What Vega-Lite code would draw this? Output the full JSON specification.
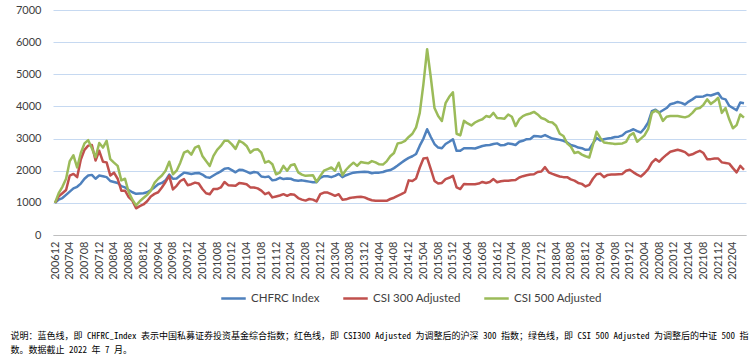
{
"$schema": "https://vega.github.io/schema/vega-lite/v6.json",
"width": 693, "height": 225,
"padding": {"left": 10, "top": 4, "right": 8, "bottom": 2},
"background": "white",
"config": {"font": "Lato", "view": {"stroke": null}, "axis": {"labelColor": "#404040", "labelFont": "Lato", "labelFontSize": 11}, "legend": {"labelFont": "Lato", "labelColor": "#404040"}},
"data": {"values": [
{"d":"200612","CHFRC":1000,"CSI300":1000,"CSI500":1000},
{"d":"200701","CHFRC":1100,"CSI300":1200,"CSI500":1300},
{"d":"200702","CHFRC":1150,"CSI300":1300,"CSI500":1500},
{"d":"200703","CHFRC":1250,"CSI300":1400,"CSI500":1750},
{"d":"200704","CHFRC":1350,"CSI300":1850,"CSI500":2300},
{"d":"200705","CHFRC":1450,"CSI300":1900,"CSI500":2480},
{"d":"200706","CHFRC":1500,"CSI300":1800,"CSI500":2100},
{"d":"200707","CHFRC":1600,"CSI300":2350,"CSI500":2550},
{"d":"200708","CHFRC":1750,"CSI300":2650,"CSI500":2850},
{"d":"200709","CHFRC":1850,"CSI300":2780,"CSI500":2950},
{"d":"200710","CHFRC":1870,"CSI300":2800,"CSI500":2700},
{"d":"200711","CHFRC":1750,"CSI300":2320,"CSI500":2420},
{"d":"200712","CHFRC":1850,"CSI300":2620,"CSI500":2860},
{"d":"200801","CHFRC":1830,"CSI300":2280,"CSI500":2720},
{"d":"200802","CHFRC":1800,"CSI300":2260,"CSI500":2930},
{"d":"200803","CHFRC":1680,"CSI300":1850,"CSI500":2360},
{"d":"200804","CHFRC":1650,"CSI300":1940,"CSI500":2250},
{"d":"200805","CHFRC":1620,"CSI300":1750,"CSI500":2150},
{"d":"200806","CHFRC":1520,"CSI300":1380,"CSI500":1700},
{"d":"200807","CHFRC":1480,"CSI300":1380,"CSI500":1750},
{"d":"200808","CHFRC":1400,"CSI300":1180,"CSI500":1330},
{"d":"200809","CHFRC":1330,"CSI300":1070,"CSI500":1100},
{"d":"200810","CHFRC":1280,"CSI300":830,"CSI500":920},
{"d":"200811","CHFRC":1290,"CSI300":900,"CSI500":1050},
{"d":"200812","CHFRC":1300,"CSI300":950,"CSI500":1150},
{"d":"200901","CHFRC":1330,"CSI300":1050,"CSI500":1250},
{"d":"200902","CHFRC":1400,"CSI300":1200,"CSI500":1380},
{"d":"200903","CHFRC":1480,"CSI300":1280,"CSI500":1620},
{"d":"200904","CHFRC":1580,"CSI300":1330,"CSI500":1750},
{"d":"200905","CHFRC":1620,"CSI300":1480,"CSI500":1850},
{"d":"200906","CHFRC":1700,"CSI300":1650,"CSI500":2000},
{"d":"200907","CHFRC":1880,"CSI300":1840,"CSI500":2280},
{"d":"200908","CHFRC":1750,"CSI300":1420,"CSI500":1890},
{"d":"200909","CHFRC":1760,"CSI300":1530,"CSI500":2000},
{"d":"200910","CHFRC":1850,"CSI300":1680,"CSI500":2250},
{"d":"200911","CHFRC":1940,"CSI300":1740,"CSI500":2560},
{"d":"200912","CHFRC":1920,"CSI300":1550,"CSI500":2620},
{"d":"201001","CHFRC":1900,"CSI300":1580,"CSI500":2500},
{"d":"201002","CHFRC":1920,"CSI300":1630,"CSI500":2720},
{"d":"201003","CHFRC":1930,"CSI300":1600,"CSI500":2770},
{"d":"201004","CHFRC":1880,"CSI300":1430,"CSI500":2460},
{"d":"201005","CHFRC":1800,"CSI300":1300,"CSI500":2300},
{"d":"201006","CHFRC":1780,"CSI300":1270,"CSI500":2150},
{"d":"201007","CHFRC":1850,"CSI300":1430,"CSI500":2460},
{"d":"201008","CHFRC":1920,"CSI300":1430,"CSI500":2650},
{"d":"201009","CHFRC":1980,"CSI300":1480,"CSI500":2770},
{"d":"201010","CHFRC":2060,"CSI300":1650,"CSI500":2930},
{"d":"201011","CHFRC":2080,"CSI300":1550,"CSI500":2930},
{"d":"201012","CHFRC":2020,"CSI300":1540,"CSI500":2820},
{"d":"201101","CHFRC":1950,"CSI300":1530,"CSI500":2680},
{"d":"201102","CHFRC":2030,"CSI300":1620,"CSI500":2930},
{"d":"201103","CHFRC":2020,"CSI300":1600,"CSI500":2870},
{"d":"201104","CHFRC":1970,"CSI300":1580,"CSI500":2770},
{"d":"201105","CHFRC":1920,"CSI300":1480,"CSI500":2560},
{"d":"201106","CHFRC":1960,"CSI300":1480,"CSI500":2650},
{"d":"201107","CHFRC":1940,"CSI300":1450,"CSI500":2670},
{"d":"201108","CHFRC":1820,"CSI300":1380,"CSI500":2560},
{"d":"201109","CHFRC":1800,"CSI300":1270,"CSI500":2250},
{"d":"201110","CHFRC":1820,"CSI300":1320,"CSI500":2300},
{"d":"201111","CHFRC":1700,"CSI300":1170,"CSI500":2200},
{"d":"201112","CHFRC":1720,"CSI300":1200,"CSI500":1890},
{"d":"201201","CHFRC":1780,"CSI300":1230,"CSI500":1940},
{"d":"201202","CHFRC":1740,"CSI300":1270,"CSI500":2150},
{"d":"201203","CHFRC":1760,"CSI300":1220,"CSI500":2000},
{"d":"201204","CHFRC":1750,"CSI300":1270,"CSI500":2170},
{"d":"201205","CHFRC":1700,"CSI300":1250,"CSI500":2200},
{"d":"201206","CHFRC":1690,"CSI300":1150,"CSI500":1950},
{"d":"201207","CHFRC":1700,"CSI300":1100,"CSI500":1880},
{"d":"201208","CHFRC":1680,"CSI300":1070,"CSI500":1840},
{"d":"201209","CHFRC":1660,"CSI300":1120,"CSI500":1850},
{"d":"201210","CHFRC":1640,"CSI300":1100,"CSI500":1860},
{"d":"201211","CHFRC":1640,"CSI300":1045,"CSI500":1650},
{"d":"201212","CHFRC":1780,"CSI300":1270,"CSI500":1840},
{"d":"201301","CHFRC":1830,"CSI300":1320,"CSI500":2000},
{"d":"201302","CHFRC":1830,"CSI300":1320,"CSI500":2050},
{"d":"201303","CHFRC":1800,"CSI300":1270,"CSI500":2100},
{"d":"201304","CHFRC":1840,"CSI300":1220,"CSI500":2000},
{"d":"201305","CHFRC":1900,"CSI300":1270,"CSI500":2250},
{"d":"201306","CHFRC":1800,"CSI300":1100,"CSI500":1860},
{"d":"201307","CHFRC":1860,"CSI300":1110,"CSI500":2030},
{"d":"201308","CHFRC":1900,"CSI300":1150,"CSI500":2150},
{"d":"201309","CHFRC":1940,"CSI300":1170,"CSI500":2250},
{"d":"201310","CHFRC":1950,"CSI300":1180,"CSI500":2150},
{"d":"201311","CHFRC":1960,"CSI300":1190,"CSI500":2270},
{"d":"201312","CHFRC":1970,"CSI300":1170,"CSI500":2250},
{"d":"201401","CHFRC":1960,"CSI300":1120,"CSI500":2230},
{"d":"201402","CHFRC":1920,"CSI300":1080,"CSI500":2300},
{"d":"201403","CHFRC":1940,"CSI300":1065,"CSI500":2260},
{"d":"201404","CHFRC":1940,"CSI300":1065,"CSI500":2200},
{"d":"201405","CHFRC":1960,"CSI300":1065,"CSI500":2190},
{"d":"201406","CHFRC":2000,"CSI300":1065,"CSI500":2290},
{"d":"201407","CHFRC":2020,"CSI300":1120,"CSI500":2450},
{"d":"201408","CHFRC":2080,"CSI300":1160,"CSI500":2550},
{"d":"201409","CHFRC":2160,"CSI300":1220,"CSI500":2850},
{"d":"201410","CHFRC":2250,"CSI300":1270,"CSI500":2870},
{"d":"201411","CHFRC":2330,"CSI300":1330,"CSI500":2930},
{"d":"201412","CHFRC":2400,"CSI300":1700,"CSI500":3050},
{"d":"201501","CHFRC":2450,"CSI300":1680,"CSI500":3150},
{"d":"201502","CHFRC":2520,"CSI300":1760,"CSI500":3350},
{"d":"201503","CHFRC":2780,"CSI300":2100,"CSI500":3800},
{"d":"201504","CHFRC":3000,"CSI300":2380,"CSI500":4700},
{"d":"201505","CHFRC":3290,"CSI300":2400,"CSI500":5780},
{"d":"201506","CHFRC":3050,"CSI300":2050,"CSI500":4900},
{"d":"201507","CHFRC":2830,"CSI300":1680,"CSI500":3950},
{"d":"201508","CHFRC":2720,"CSI300":1600,"CSI500":3700},
{"d":"201509","CHFRC":2700,"CSI300":1620,"CSI500":3550},
{"d":"201510","CHFRC":2830,"CSI300":1740,"CSI500":4100},
{"d":"201511","CHFRC":2900,"CSI300":1780,"CSI500":4300},
{"d":"201512","CHFRC":2980,"CSI300":1840,"CSI500":4440},
{"d":"201601","CHFRC":2620,"CSI300":1480,"CSI500":3150},
{"d":"201602","CHFRC":2620,"CSI300":1430,"CSI500":3100},
{"d":"201603","CHFRC":2700,"CSI300":1590,"CSI500":3550},
{"d":"201604","CHFRC":2700,"CSI300":1580,"CSI500":3470},
{"d":"201605","CHFRC":2700,"CSI300":1580,"CSI500":3410},
{"d":"201606","CHFRC":2690,"CSI300":1580,"CSI500":3500},
{"d":"201607","CHFRC":2730,"CSI300":1600,"CSI500":3560},
{"d":"201608","CHFRC":2770,"CSI300":1650,"CSI500":3600},
{"d":"201609","CHFRC":2790,"CSI300":1620,"CSI500":3700},
{"d":"201610","CHFRC":2800,"CSI300":1650,"CSI500":3670},
{"d":"201611","CHFRC":2830,"CSI300":1740,"CSI500":3800},
{"d":"201612","CHFRC":2850,"CSI300":1640,"CSI500":3640},
{"d":"201701","CHFRC":2790,"CSI300":1670,"CSI500":3630},
{"d":"201702","CHFRC":2800,"CSI300":1690,"CSI500":3620},
{"d":"201703","CHFRC":2850,"CSI300":1690,"CSI500":3750},
{"d":"201704","CHFRC":2830,"CSI300":1700,"CSI500":3680},
{"d":"201705","CHFRC":2800,"CSI300":1710,"CSI500":3390},
{"d":"201706","CHFRC":2900,"CSI300":1790,"CSI500":3600},
{"d":"201707","CHFRC":2930,"CSI300":1830,"CSI500":3700},
{"d":"201708","CHFRC":2980,"CSI300":1860,"CSI500":3750},
{"d":"201709","CHFRC":2990,"CSI300":1880,"CSI500":3780},
{"d":"201710","CHFRC":3080,"CSI300":1890,"CSI500":3830},
{"d":"201711","CHFRC":3070,"CSI300":1960,"CSI500":3750},
{"d":"201712","CHFRC":3060,"CSI300":1975,"CSI500":3640},
{"d":"201801","CHFRC":3110,"CSI300":2110,"CSI500":3600},
{"d":"201802","CHFRC":3050,"CSI300":1950,"CSI500":3520},
{"d":"201803","CHFRC":3000,"CSI300":1900,"CSI500":3500},
{"d":"201804","CHFRC":2980,"CSI300":1860,"CSI500":3400},
{"d":"201805","CHFRC":2960,"CSI300":1820,"CSI500":3150},
{"d":"201806","CHFRC":2930,"CSI300":1800,"CSI500":3080},
{"d":"201807","CHFRC":2880,"CSI300":1800,"CSI500":2850},
{"d":"201808","CHFRC":2800,"CSI300":1730,"CSI500":2750},
{"d":"201809","CHFRC":2770,"CSI300":1690,"CSI500":2550},
{"d":"201810","CHFRC":2720,"CSI300":1620,"CSI500":2580},
{"d":"201811","CHFRC":2700,"CSI300":1590,"CSI500":2500},
{"d":"201812","CHFRC":2650,"CSI300":1510,"CSI500":2450},
{"d":"201901","CHFRC":2660,"CSI300":1560,"CSI500":2410},
{"d":"201902","CHFRC":2850,"CSI300":1750,"CSI500":2800},
{"d":"201903","CHFRC":3020,"CSI300":1890,"CSI500":3210},
{"d":"201904","CHFRC":2940,"CSI300":1910,"CSI500":3020},
{"d":"201905","CHFRC":2980,"CSI300":1800,"CSI500":2880},
{"d":"201906","CHFRC":3000,"CSI300":1870,"CSI500":2860},
{"d":"201907","CHFRC":3020,"CSI300":1880,"CSI500":2850},
{"d":"201908","CHFRC":3050,"CSI300":1880,"CSI500":2830},
{"d":"201909","CHFRC":3060,"CSI300":1890,"CSI500":2840},
{"d":"201910","CHFRC":3100,"CSI300":1900,"CSI500":2850},
{"d":"201911","CHFRC":3200,"CSI300":2000,"CSI500":2900},
{"d":"201912","CHFRC":3240,"CSI300":2030,"CSI500":3100},
{"d":"202001","CHFRC":3290,"CSI300":1950,"CSI500":3170},
{"d":"202002","CHFRC":3230,"CSI300":1880,"CSI500":2900},
{"d":"202003","CHFRC":3190,"CSI300":1820,"CSI500":3000},
{"d":"202004","CHFRC":3320,"CSI300":1920,"CSI500":3100},
{"d":"202005","CHFRC":3500,"CSI300":2050,"CSI500":3300},
{"d":"202006","CHFRC":3850,"CSI300":2250,"CSI500":3800},
{"d":"202007","CHFRC":3900,"CSI300":2360,"CSI500":3870},
{"d":"202008","CHFRC":3810,"CSI300":2280,"CSI500":3800},
{"d":"202009","CHFRC":3880,"CSI300":2400,"CSI500":3550},
{"d":"202010","CHFRC":3950,"CSI300":2500,"CSI500":3680},
{"d":"202011","CHFRC":4070,"CSI300":2590,"CSI500":3700},
{"d":"202012","CHFRC":4100,"CSI300":2620,"CSI500":3700},
{"d":"202101","CHFRC":4140,"CSI300":2650,"CSI500":3700},
{"d":"202102","CHFRC":4110,"CSI300":2620,"CSI500":3680},
{"d":"202103","CHFRC":4060,"CSI300":2580,"CSI500":3660},
{"d":"202104","CHFRC":4150,"CSI300":2480,"CSI500":3700},
{"d":"202105","CHFRC":4220,"CSI300":2510,"CSI500":3800},
{"d":"202106","CHFRC":4300,"CSI300":2570,"CSI500":3930},
{"d":"202107","CHFRC":4300,"CSI300":2620,"CSI500":3950},
{"d":"202108","CHFRC":4310,"CSI300":2550,"CSI500":4050},
{"d":"202109","CHFRC":4360,"CSI300":2360,"CSI500":4220},
{"d":"202110","CHFRC":4340,"CSI300":2360,"CSI500":4080},
{"d":"202111","CHFRC":4380,"CSI300":2380,"CSI500":4160},
{"d":"202112","CHFRC":4420,"CSI300":2380,"CSI500":4270},
{"d":"202201","CHFRC":4250,"CSI300":2260,"CSI500":3800},
{"d":"202202","CHFRC":4220,"CSI300":2240,"CSI500":3950},
{"d":"202203","CHFRC":4020,"CSI300":2220,"CSI500":3600},
{"d":"202204","CHFRC":3950,"CSI300":2080,"CSI500":3320},
{"d":"202205","CHFRC":3880,"CSI300":1950,"CSI500":3420},
{"d":"202206","CHFRC":4120,"CSI300":2150,"CSI500":3750},
{"d":"202207","CHFRC":4100,"CSI300":2030,"CSI500":3650}
]},
"transform": [{"fold": ["CHFRC", "CSI300", "CSI500"], "as": ["series", "value"]}],
"mark": {"type": "line", "strokeWidth": 2.5, "strokeJoin": "round"},
"encoding": {
  "x": {"field": "d", "type": "ordinal", "scale": {"type": "point", "padding": 0.55},
        "axis": {"title": null, "labelAngle": -90, "ticks": false, "domainColor": "#bfbfbf", "domainWidth": 1, "labelPadding": 6, "grid": false,
                 "values": ["200612","200704","200708","200712","200804","200808","200812","200904","200908","200912","201004","201008","201012","201104","201108","201112","201204","201208","201212","201304","201308","201312","201404","201408","201412","201504","201508","201512","201604","201608","201612","201704","201708","201712","201804","201808","201812","201904","201908","201912","202004","202008","202012","202104","202108","202112","202204"]}},
  "y": {"field": "value", "type": "quantitative", "scale": {"domain": [0, 7000], "nice": false},
        "axis": {"title": null, "format": "d", "domain": false, "ticks": false, "gridColor": "#c6d9f1", "gridWidth": 1, "labelPadding": 12, "values": [0,1000,2000,3000,4000,5000,6000,7000]}},
  "color": {"field": "series", "type": "nominal",
            "scale": {"domain": ["CHFRC", "CSI300", "CSI500"], "range": ["#4F81BD", "#C0504D", "#9BBB59"]},
            "legend": {"title": null, "orient": "none", "legendX": 167, "legendY": 275, "direction": "horizontal", "symbolType": "stroke", "symbolSize": 600, "symbolStrokeWidth": 2.5, "labelFontSize": 11.5, "columnPadding": 18,
                       "labelExpr": "{'CHFRC': 'CHFRC Index', 'CSI300': 'CSI 300 Adjusted', 'CSI500': 'CSI 500 Adjusted'}[datum.label]"}}
},
"title": {"text": ["说明：蓝色线，即 CHFRC_Index 表示中国私募证券投资基金综合指数；红色线，即 CSI300 Adjusted 为调整后的沪深 300 指数；绿色线，即 CSI 500 Adjusted 为调整后的中证 500 指", "数。数据截止 2022 年 7 月。"],
          "orient": "bottom", "anchor": "start", "frame": "bounds", "dx": -5, "font": "Noto Sans Mono CJK SC, Noto Sans CJK SC", "fontSize": 9, "fontWeight": "normal", "color": "#000000", "lineHeight": 14, "offset": 28}
}
